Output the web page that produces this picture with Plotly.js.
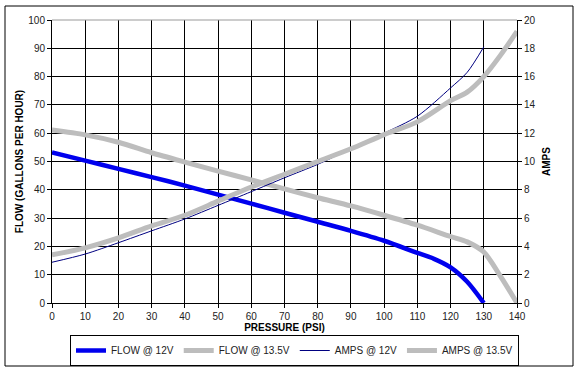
<!DOCTYPE html>
<html>
<head>
<meta charset="utf-8">
<script src="https://cdn.plot.ly/plotly-3.0.1.min.js"></script>
<style>html,body{margin:0;padding:0;background:#fff;}#chart{width:582px;height:378px;}</style>
</head>
<body>
<div id="chart"></div>
<script>
// PSI values and series
const psiFlow12 = [0, 10, 20, 30, 40, 50, 60, 70, 80, 90, 100, 110, 115, 120, 125, 130];
const flow12 = [53.2, 50.3, 47.4, 44.5, 41.5, 38.3, 35.1, 31.9, 28.7, 25.5, 22, 17.7, 15.6, 12.6, 7.5, 0];

const psiFlow135 = [0, 10, 20, 30, 40, 50, 60, 70, 80, 90, 100, 110, 120, 125, 130, 135, 140];
const flow135 = [61.1, 59.4, 56.8, 53.1, 49.8, 46.6, 43.5, 40.3, 37.2, 34.3, 31, 27.5, 23.5, 21.6, 18, 9.5, 0];

const psiAmps12 = [0, 10, 20, 30, 40, 50, 60, 70, 80, 90, 100, 110, 120, 125, 130];
const amps12 = [2.88, 3.46, 4.26, 5.1, 5.94, 6.9, 7.87, 8.85, 9.8, 10.9, 12.0, 13.2, 15.2, 16.3, 18.1];

const psiAmps135 = [0, 10, 20, 30, 40, 50, 60, 70, 80, 90, 100, 110, 120, 125, 130, 135, 140];
const amps135 = [3.4, 3.9, 4.6, 5.45, 6.2, 7.2, 8.2, 9.1, 10.0, 10.9, 11.9, 12.8, 14.3, 14.9, 16.0, 17.5, 19.2];

const xTicks = [0, 10, 20, 30, 40, 50, 60, 70, 80, 90, 100, 110, 120, 130, 140];
const yLeftTicks = [0, 10, 20, 30, 40, 50, 60, 70, 80, 90, 100];
const yRightTicks = [0, 2, 4, 6, 8, 10, 12, 14, 16, 18, 20];

const FONT = 'Liberation Sans, Arial, sans-serif';

const traces = [
  {x: psiFlow12, y: flow12, name: 'FLOW @ 12V', mode: 'lines', yaxis: 'y',
   line: {color: '#0000ee', width: 4.5, shape: 'spline', smoothing: 0.8}},
  {x: psiFlow135, y: flow135, name: 'FLOW @ 13.5V', mode: 'lines', yaxis: 'y',
   line: {color: '#bdbdbd', width: 5, shape: 'spline', smoothing: 0.8}},
  {x: psiAmps12, y: amps12, name: 'AMPS @ 12V', mode: 'lines', yaxis: 'y2',
   line: {color: '#000080', width: 1, shape: 'spline', smoothing: 0.8}},
  {x: psiAmps135, y: amps135, name: 'AMPS @ 13.5V', mode: 'lines', yaxis: 'y2',
   line: {color: '#bdbdbd', width: 5, shape: 'spline', smoothing: 0.8}}
];

const L = 52, R = 517, T = 20, B = 303;
const pw = R - L, ph = B - T;
function px(xp) { return (xp - L) / pw; }
function py(yp) { return (B - yp) / ph; }

const layout = {
  width: 582, height: 378,
  margin: {l: L, r: 582 - R, t: T, b: 378 - B, pad: 0, autoexpand: false},
  paper_bgcolor: '#ffffff', plot_bgcolor: '#ffffff',
  font: {family: FONT, size: 10, color: '#222'},
  showlegend: true,
  legend: {
    orientation: 'h', x: px(70), y: py(335), xanchor: 'left', yanchor: 'top',
    bordercolor: '#000', borderwidth: 1, bgcolor: '#fff',
    font: {family: FONT, size: 10, color: '#222'},
    traceorder: 'normal', tracegroupgap: 0
  },
  xaxis: {
    range: [0, 140], tickvals: xTicks, ticktext: xTicks.map(String), automargin: false,
    showgrid: true, gridcolor: '#000', gridwidth: 1, zeroline: false,
    showline: true, linecolor: '#000', linewidth: 1,
    ticks: 'outside', ticklen: 4, tickcolor: '#000',
    tickfont: {family: FONT, size: 10, color: '#222'},
    title: {text: 'PRESSURE (PSI)', font: {family: FONT, size: 10, color: '#000', weight: 'bold'}, standoff: 0}
  },
  yaxis: {
    range: [0, 100], tickvals: yLeftTicks, automargin: false,
    showgrid: true, gridcolor: '#000', gridwidth: 1, zeroline: false,
    showline: true, linecolor: '#000', linewidth: 1,
    ticks: 'outside', ticklen: 4, tickcolor: '#000',
    tickfont: {family: FONT, size: 10, color: '#222'},
    title: {text: 'FLOW (GALLONS PER HOUR)', font: {family: FONT, size: 10, color: '#000', weight: 'bold'}, standoff: 2}
  },
  yaxis2: {
    range: [0, 20], tickvals: yRightTicks, overlaying: 'y', side: 'right', automargin: false,
    showgrid: false, zeroline: false,
    showline: true, linecolor: '#000', linewidth: 1,
    ticks: 'outside', ticklen: 4, tickcolor: '#000',
    tickfont: {family: FONT, size: 10, color: '#222'},
    title: {text: 'AMPS', font: {family: FONT, size: 10, color: '#000', weight: 'bold'}, standoff: 8}
  },
  shapes: [
    {type: 'rect', xref: 'paper', yref: 'paper', x0: px(5), x1: px(573), y0: py(366), y1: py(6),
     line: {color: '#000', width: 1}, fillcolor: 'rgba(0,0,0,0)', layer: 'below'},
    {type: 'line', xref: 'paper', yref: 'paper', x0: 0, x1: 1, y0: 1, y1: 1,
     line: {color: '#999', width: 1}}
  ]
};

Plotly.newPlot('chart', traces, layout, {displayModeBar: false, staticPlot: true});
</script>
</body>
</html>
